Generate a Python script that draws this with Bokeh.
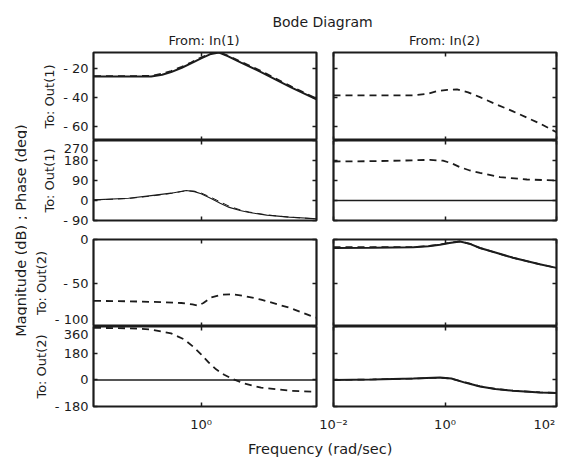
import numpy as np
from bokeh.plotting import figure
from bokeh.models import Label, LinearAxis, LogAxis, FixedTicker, Range1d
from bokeh.layouts import column, row
from bokeh.embed import file_html
from bokeh.resources import INLINE

FONT = "DejaVu Sans"
INK = "#1c1c1c"

# ---------------- data (frequency in rad/sec) ----------------
# From In(1) -> To Out(1): magnitude (dB)
w_m11 = [0.012, 0.05, 0.127, 0.2, 0.29, 0.45, 0.66, 1.0, 1.51, 2.1, 3.0, 5.2, 11.9, 41.0, 120.0]
m11_a = [-25.5, -25.5, -25.5, -24.3, -22.5, -19.5, -16.5, -13.0, -10.0, -9.0, -11.5, -16.0, -22.5, -33.0, -41.5]
m11_b = [-25.3, -25.3, -25.0, -23.6, -21.7, -18.8, -15.8, -12.4, -9.6, -8.8, -11.0, -15.3, -21.7, -32.3, -41.0]
# From In(1) -> To Out(1): phase (deg)
w_p11 = [0.012, 0.05, 0.127, 0.29, 0.54, 0.76, 1.0, 1.51, 2.2, 3.2, 5.0, 7.3, 15.0, 38.0, 120.0]
p11_a = [3, 10, 22, 33, 45, 40, 30, 9, -12, -31, -45, -54, -66, -75, -82]
p11_b = [2, 9, 20, 32, 44, 42, 34, 14, -6, -26, -42, -52, -65, -75, -83]
# From In(1) -> To Out(2): magnitude (dB)
w_m21 = [0.012, 0.05, 0.2, 0.44, 0.7, 0.88, 1.1, 1.51, 2.3, 3.75, 6.0, 11.9, 41.0, 94.0, 120.0]
m21_b = [-70.5, -71.0, -72.0, -73.0, -74.5, -76.0, -73.0, -66.7, -63.5, -63.0, -65.0, -69.0, -79.0, -88.0, -90.0]
# From In(1) -> To Out(2): phase (deg)
w_p21 = [0.012, 0.05, 0.127, 0.29, 0.5, 0.75, 1.0, 1.35, 1.86, 2.6, 3.75, 6.0, 11.9, 41.0, 101.0, 120.0]
p21_b = [353, 350, 342, 315, 274, 220, 173, 120, 72, 35, 5, -25, -52, -74, -79, -80]
w_p21_a = [0.012, 120.0]
p21_a = [0, 0]

# From In(2) -> To Out(1): magnitude (dB)
w_m12 = [0.01, 0.05, 0.27, 0.5, 0.72, 1.1, 1.64, 2.6, 4.24, 8.0, 16.6, 50.6, 100.0]
m12_b = [-38.6, -38.6, -38.6, -37.5, -35.6, -34.8, -34.5, -36.5, -39.8, -44.5, -49.6, -58.0, -64.0]
# From In(2) -> To Out(1): phase (deg)
w_p12 = [0.01, 0.05, 0.2, 0.54, 0.92, 1.3, 1.86, 2.8, 4.24, 9.7, 29.5, 100.0]
p12_b = [175.5, 177, 180, 183, 179, 168, 150, 135, 124.5, 105, 94.5, 90]
w_p12_a = [0.01, 100.0]
p12_a = [0, 0]
# From In(2) -> To Out(2): magnitude (dB)
w_m22 = [0.01, 0.05, 0.27, 0.5, 0.81, 1.2, 1.86, 2.8, 4.24, 8.0, 16.6, 50.0, 100.0]
m22_a = [-9.8, -9.6, -9.0, -7.8, -6.0, -4.0, -2.3, -5.0, -9.8, -15.0, -21.0, -28.5, -32.6]
m22_b = [-8.7, -8.7, -8.7, -7.5, -5.8, -3.8, -2.2, -5.0, -9.8, -15.0, -21.0, -28.5, -32.6]
# From In(2) -> To Out(2): phase (deg)
w_p22 = [0.01, 0.05, 0.27, 0.81, 1.3, 2.28, 4.24, 8.0, 16.6, 50.6, 100.0]
p22_a = [0, 3, 9, 16, 10, -18, -45, -62, -74, -85, -88]
p22_b = [0, 3, 9, 15, 9, -16, -43, -61, -73, -84, -88]

# tick values / labels
yt_mag1 = [-60, -40, -20]
yl_mag1 = {-20: "- 20", -40: "- 40", -60: "- 60"}
yt_ph1 = [-90, 0, 90, 180, 270]
yl_ph1 = {270: "270", 180: "180", 90: "90", 0: "0", -90: "- 90"}
yt_mag2 = [-100, -50, 0]
yl_mag2 = {0: "0", -50: "- 50", -100: "- 100"}
yt_ph2 = [-180, 0, 180, 360]
yl_ph2 = {360: "360", 180: "180", 0: "0", -180: "- 180"}
xt_left = [1]
xl_left = {1: "10\u2070"}
xt_right = [0.01, 1, 100]
xl_right = {0.01: "10\u207b\u00b2", 1: "10\u2070", 100: "10\u00b2\u00a0\u00a0"}

# rows: (ylo, yhi, ticks, labels, label baseline, fig height, border top, border bottom, row label, label standoff)
ROWS = [
    (-69.7, -9.0, yt_mag1, yl_mag1, "middle", 92, 4, 0, "To: Out(1)", 3),
    (-90.0, 270.0, yt_ph1, yl_ph1, "hanging", 90, 0, 10, "To: Out(1)", 3),
    (-100.0, 0.0, yt_mag2, yl_mag2, "alphabetic", 96, 9, 0, "To: Out(2)", 3),
    (-180.0, 362.0, yt_ph2, yl_ph2, "hanging", 110, 0, 30, "To: Out(2)", 3),
]
XL = (10 ** -1.93, 10 ** 2.07)
XR = (0.01, 100.0)


def style_axis(ax, show):
    ax.axis_line_color = None
    ax.major_tick_in = 4
    ax.major_tick_out = 0
    ax.minor_tick_in = 0
    ax.minor_tick_out = 0
    ax.major_tick_line_color = INK
    ax.major_tick_line_width = 1.5
    ax.major_label_text_font = FONT
    if show:
        ax.major_label_text_color = INK
        ax.major_label_text_font_size = "13px"
    else:
        ax.major_label_text_color = None
        ax.major_label_text_font_size = "1px"
        ax.major_label_standoff = 0


def panel(col, r):
    ylo, yhi, yticks, ylabels, base, h, bt, bb, ylab, lstand = ROWS[r]
    if col == 0:
        w, bl, br, xr, xticks, xlabels = 291, 66, 2, XL, xt_left, xl_left
    else:
        w, bl, br, xr, xticks, xlabels = 245, 15, 7, XR, xt_right, xl_right
    p = figure(width=w, height=h, x_axis_type="log", x_axis_location=None, y_axis_location=None,
               x_range=Range1d(*xr), y_range=Range1d(ylo, yhi),
               min_border_left=bl, min_border_right=br, min_border_top=bt, min_border_bottom=bb,
               output_backend="svg", toolbar_location=None)
    p.grid.visible = False
    p.outline_line_color = INK
    p.outline_line_width = 2.2
    p.background_fill_color = "white"
    p.border_fill_color = "white"
    for side in ("left", "right"):
        show = (side == "left" and col == 0)
        ax = LinearAxis(ticker=FixedTicker(ticks=yticks))
        style_axis(ax, show)
        if show:
            ax.major_label_overrides = ylabels
            ax.major_label_text_baseline = base
            ax.axis_label = ylab
            ax.axis_label_text_font = FONT
            ax.axis_label_text_font_size = "13px"
            ax.axis_label_text_font_style = "normal"
            ax.axis_label_text_color = INK
            ax.axis_label_standoff = lstand
        p.add_layout(ax, side)
    for side in ("above", "below"):
        ax = LogAxis(ticker=FixedTicker(ticks=xticks))
        show = (side == "below" and r == 3)
        style_axis(ax, show)
        if show:
            ax.major_label_overrides = xlabels
            ax.major_label_standoff = 10
        p.add_layout(ax, side)
    return p


def solid(p, x, y, lw=1.8):
    p.line(x, y, line_color=INK, line_width=lw)


def dashed(p, x, y, lw=1.8):
    p.line(x, y, line_color=INK, line_width=lw, line_dash="7 5")


# column 1: From In(1)
a = panel(0, 0); solid(a, w_m11, m11_a, 2.0); dashed(a, w_m11, m11_b, 1.6)
b = panel(0, 1); solid(b, w_p11, p11_a, 1.1); dashed(b, w_p11, p11_b, 1.0)
c = panel(0, 2); dashed(c, w_m21, m21_b)
d = panel(0, 3); solid(d, w_p21_a, p21_a, 1.5); dashed(d, w_p21, p21_b)
# column 2: From In(2)
e = panel(1, 0); dashed(e, w_m12, m12_b)
f = panel(1, 1); solid(f, w_p12_a, p12_a, 1.5); dashed(f, w_p12, p12_b)
g = panel(1, 2); solid(g, w_m22, m22_a, 2.0); dashed(g, w_m22, m22_b, 1.6)
h = panel(1, 3); solid(h, w_p22, p22_a, 2.0); dashed(h, w_p22, p22_b, 1.6)


def text_fig(w, hgt):
    t = figure(width=w, height=hgt, x_range=Range1d(0, w), y_range=Range1d(0, hgt), min_border=0,
               x_axis_location=None, y_axis_location=None, output_backend="svg", toolbar_location=None)
    t.grid.visible = False
    t.outline_line_color = None
    t.border_fill_color = "white"
    return t


def label(t, x, y, text, size, angle=0.0, baseline="alphabetic"):
    t.add_layout(Label(x=x, y=y, text=text, text_align="center", text_baseline=baseline,
                       text_font=FONT, text_font_size=size, text_color=INK, angle=angle))


header = text_fig(563, 48)
label(header, 322, 26.5, "Bode Diagram", "14px")
label(header, 203.5, 8.5, "From: In(1)", "13px")
label(header, 444, 8.5, "From: In(2)", "13px")

ylab = text_fig(27, 388)
label(ylab, 20, 206, "Magnitude (dB) ; Phase (deg)", "14.5px", angle=np.pi / 2, baseline="middle")

footer = text_fig(563, 24)
label(footer, 322, 12, "Frequency  (rad/sec)", "14.5px")

layout = column(header, row(ylab, column(a, b, c, d), column(e, f, g, h)), footer)

open("out.html", "w").write(file_html(layout, INLINE, "Bode Diagram"))
